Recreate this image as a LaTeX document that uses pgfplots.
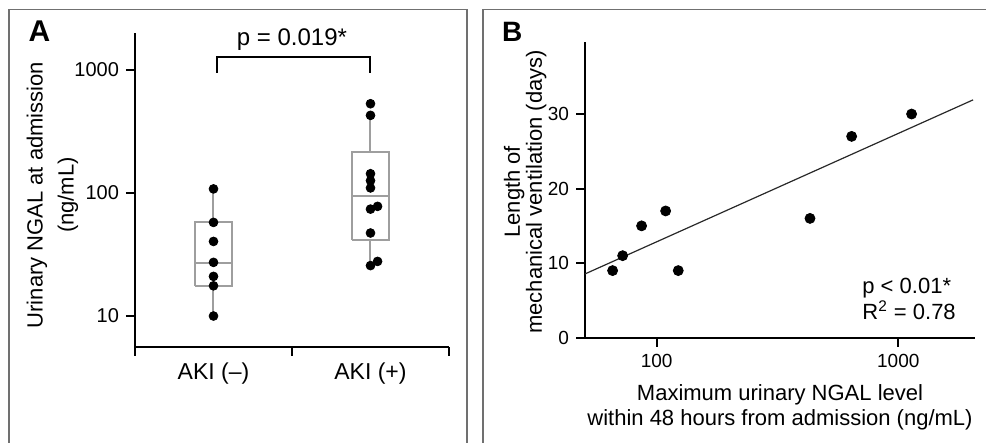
\documentclass[border=0pt]{standalone}
\usepackage{fontspec}
\setmainfont{Liberation Sans}
\usepackage{pgfplots}
\pgfplotsset{compat=1.18}

\definecolor{boxgray}{RGB}{158,158,158}
\definecolor{framegray}{RGB}{112,112,112}
\definecolor{fitline}{RGB}{40,40,40}

\pgfplotsset{
  panel/.style={
    scale only axis,
    clip=false,
    axis x line*=bottom,
    axis y line*=left,
    axis line style={line width=1pt, black},
    tick style={line width=1pt, black},
    tick align=outside,
    major tick length=4.5pt,
    /pgf/number format/assume math mode=true,
    tick label style={font=\fontsize{10}{12}\selectfont},
  },
}

\begin{document}
\begin{tikzpicture}
\useasboundingbox (0,0) rectangle (493pt,221.5pt);
% panel frames
\draw[framegray, line width=0.75pt] (4.5pt,0) -- (4.5pt,216.75pt) -- (233.5pt,216.75pt) -- (233.5pt,0);
\draw[framegray, line width=0.75pt] (241.5pt,0) -- (241.5pt,216.75pt) -- (493pt,216.75pt);

% ---------- A ----------
\begin{axis}[panel,
    at={(67.5pt,48pt)}, anchor=south west,
    width=157pt, height=157pt,
    xmin=-0.5, xmax=1.5,
    ymode=log, ymin=5.6, ymax=2000,
    xtick={-0.5,0.5,1.5}, xticklabels={},
    extra x ticks={0,1},
    extra x tick labels={AKI (–),AKI (+)},
    extra x tick style={tick style={draw=none},
      tick label style={font=\fontsize{11.5}{13}\selectfont}},
    ytick={10,100,1000}, yticklabels={10,100,1000},
    yminorticks=false,
    ylabel={Urinary NGAL at admission\\(ng/mL)},
    ylabel style={align=center, font=\fontsize{11}{15.5}\selectfont,
      at={(axis description cs:-0.18,0.484)}, anchor=south, inner sep=0pt},
  ]
  % boxes
  \addplot[boxgray, line width=1pt] coordinates {(-0.118,17.6) (0.118,17.6) (0.118,57.7) (-0.118,57.7) (-0.118,17.6)};
  \addplot[boxgray, line width=1pt] coordinates {(-0.118,27) (0.118,27)};
  \addplot[boxgray, line width=1pt] coordinates {(0,10) (0,17.6)};
  \addplot[boxgray, line width=1pt] coordinates {(0,57.7) (0,108)};
  \addplot[boxgray, line width=1pt] coordinates {(0.882,41.7) (1.118,41.7) (1.118,214) (0.882,214) (0.882,41.7)};
  \addplot[boxgray, line width=1pt] coordinates {(0.882,93.8) (1.118,93.8)};
  \addplot[boxgray, line width=1pt] coordinates {(1,25.7) (1,41.7)};
  \addplot[boxgray, line width=1pt] coordinates {(1,214) (1,428)};
  % points
  \addplot[only marks, mark=*, mark size=2.2pt, black] coordinates {
    (0,108) (0,57.7) (0,40.4) (0,27.3) (0,21) (0,17.6) (0,10)
  };
  \addplot[only marks, mark=*, mark size=2.2pt, black] coordinates {
    (1,532) (1,428) (1,143.5) (1,126) (1,110) (1,74) (1.045,77.9)
    (1,47.3) (1,25.7) (1.045,27.8)
  };
  % significance bracket
  \addplot[black, line width=1pt] coordinates {(0.02,950) (0.02,1268) (1.0,1268) (1.0,950)};
  \node[anchor=base, font=\fontsize{12}{14}\selectfont] at (axis cs:0.5,1596) {p = 0.019*};
\end{axis}
\node[anchor=base west, inner sep=0pt, font=\fontsize{15}{17}\selectfont\bfseries] at (14.15pt,200.65pt) {A};

% ---------- B ----------
\begin{axis}[panel,
    at={(292.5pt,52.65pt)}, anchor=south west,
    width=195pt, height=148pt,
    xmode=log, xmin=50.5, xmax=2077,
    ymin=0, ymax=39.7,
    tick label style={font=\fontsize{9.5}{11}\selectfont},
    xtick={100,1000}, xticklabels={100,1000},
    xminorticks=false,
    ytick={0,10,20,30}, yticklabels={0,10,20,30},
    xlabel={Maximum urinary NGAL level\\within 48 hours from admission (ng/mL)},
    xlabel style={align=center, font=\fontsize{11}{12.5}\selectfont,
      at={(axis description cs:0.5,-0.157)}, anchor=north, inner sep=0pt},
    ylabel={Length of\\mechanical ventilation (days)},
    ylabel style={align=center, font=\fontsize{11}{11}\selectfont,
      at={(axis description cs:-0.098,0.493)}, anchor=south, inner sep=0pt},
  ]
  \addplot[fitline, line width=0.6pt] coordinates {(50.5,8.55) (2040,31.9)};
  \addplot[only marks, mark=*, mark size=2.5pt, black] coordinates {
    (65.7,9) (72.3,11) (86.6,15) (108.9,17) (122.8,9)
    (431,16) (641,27) (1135,30)
  };
\end{axis}
\node[anchor=base west, inner sep=0pt, font=\fontsize{14}{16}\selectfont\bfseries] at (250.85pt,200.65pt) {B};
\node[anchor=base west, inner sep=0pt, font=\fontsize{11}{13}\selectfont] at (431pt,74.85pt) {p < 0.01*};
\node[anchor=base west, inner sep=0pt, font=\fontsize{11}{13}\selectfont] at (431pt,61.85pt) {R\textsuperscript{2} = 0.78};
\end{tikzpicture}
\end{document}
